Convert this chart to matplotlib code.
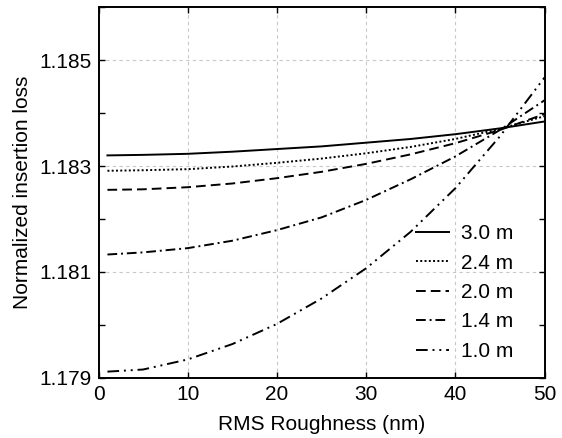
import matplotlib

matplotlib.use("Agg")
import matplotlib.pyplot as plt
from matplotlib.ticker import MultipleLocator

plt.rcParams["font.family"] = ["Liberation Sans", "DejaVu Sans"]

# RMS roughness (nm)
roughness = [1, 5, 10, 15, 20, 25, 30, 35, 40, 45, 50]

# normalized insertion loss
loss_3_0 = [1.18320, 1.18321, 1.18323, 1.18327, 1.18332, 1.18337, 1.18344, 1.18351, 1.18360, 1.18371, 1.18384]
loss_2_4 = [1.18291, 1.18292, 1.18294, 1.18299, 1.18306, 1.18314, 1.18324, 1.18336, 1.18351, 1.18370, 1.18394]
loss_2_0 = [1.18255, 1.18256, 1.18260, 1.18267, 1.18277, 1.18289, 1.18304, 1.18322, 1.18343, 1.18368, 1.18398]
loss_1_4 = [1.18133, 1.18137, 1.18145, 1.18159, 1.18179, 1.18203, 1.18236, 1.18275, 1.18318, 1.18368, 1.18424]
loss_1_0 = [1.17912, 1.17916, 1.17935, 1.17964, 1.18002, 1.18050, 1.18107, 1.18176, 1.18258, 1.18356, 1.18467]

labels = ["3.0 m", "2.4 m", "2.0 m", "1.4 m", "1.0 m"]
series = [loss_3_0, loss_2_4, loss_2_0, loss_1_4, loss_1_0]
styles = [
    "-",
    (0, (1, 1.2)),
    (0, (5, 2.6)),
    (0, (5, 2, 1, 2)),
    (0, (6, 2.5, 1, 2.5, 1, 2.5)),
]

fig = plt.figure(figsize=(5.62, 4.38), dpi=100)
ax = fig.add_axes([0.1753, 0.137, 0.7936, 0.847])

for vals, lab, ls in zip(series, labels, styles):
    ax.plot(roughness, vals, color="black", linewidth=1.4, linestyle=ls, label=lab)

ax.set_xlim(0, 50)
ax.set_ylim(1.179, 1.186)
ax.xaxis.set_major_locator(MultipleLocator(10))
ax.set_yticks([1.179, 1.181, 1.183, 1.185])
ax.yaxis.set_minor_locator(MultipleLocator(0.001))
ax.set_yticklabels(["1.179", "1.181", "1.183", "1.185"])

ax.grid(True, which="major", color="#c8c8c8", linestyle=(0, (3, 3)), linewidth=0.8)
ax.tick_params(which="both", direction="in", top=True, right=True, labelsize=15,
               length=4, width=1, pad=5)
for s in ax.spines.values():
    s.set_linewidth(1.4)

ax.set_xlabel("RMS Roughness (nm)", fontsize=15, labelpad=8)
ax.set_ylabel("Normalized insertion loss", fontsize=15, labelpad=5)

ax.legend(loc="center left", bbox_to_anchor=(0.712, 0.2305), frameon=False,
          fontsize=15, handlelength=1.6, handletextpad=0.55, labelspacing=0.5,
          borderpad=0, borderaxespad=0)

fig.savefig("out.png", dpi=100)
